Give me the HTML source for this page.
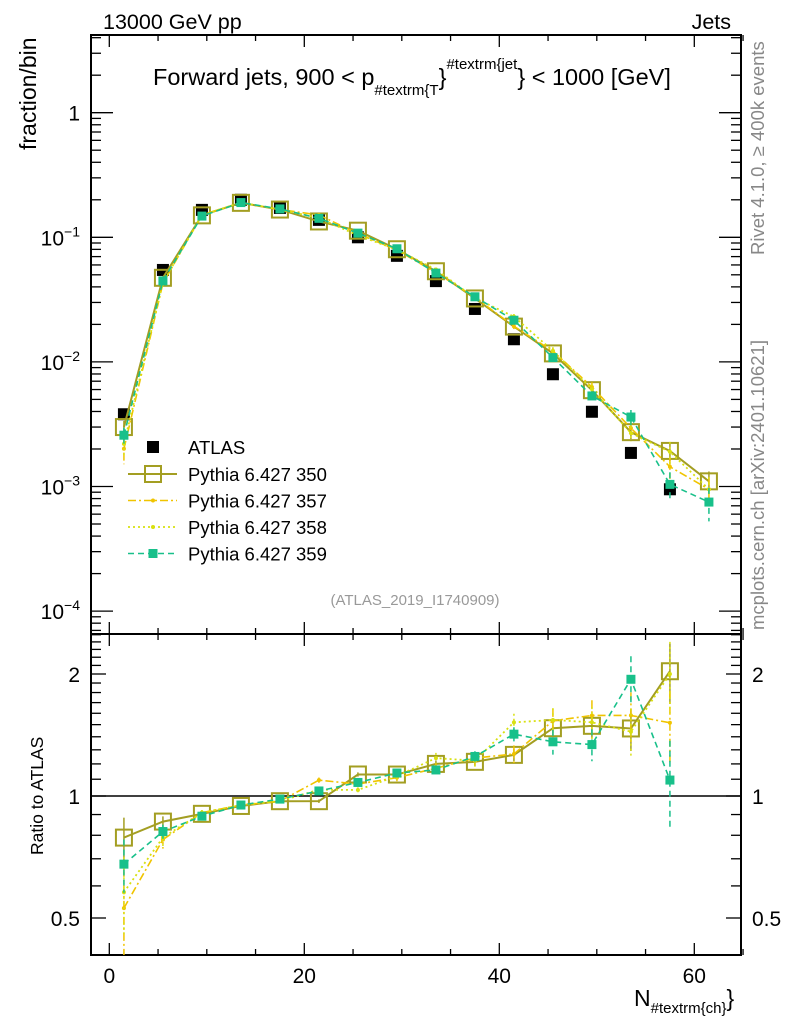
<!DOCTYPE html>
<html><head><meta charset="utf-8"><style>
html,body{margin:0;padding:0;background:#fff;}
svg{display:block;font-family:"Liberation Sans",Arial,sans-serif;}
</style></head><body>
<svg id="chart" width="786" height="1024" viewBox="0 0 786 1024" xmlns="http://www.w3.org/2000/svg">
<text x="103" y="29" font-size="21.5">13000 GeV pp</text>
<text x="731" y="29" font-size="21.5" text-anchor="end">Jets</text>
<text x="153" y="85" font-size="23.5">Forward jets, 900 &lt; p<tspan font-size="15" dy="10">#textrm{T</tspan><tspan font-size="23.5" dy="-10">}</tspan><tspan font-size="15" dy="-16">#textrm{jet</tspan><tspan font-size="23.5" dy="16">} &lt; 1000 [GeV]</tspan></text>
<text transform="translate(36,150) rotate(-90)" font-size="23">fraction/bin</text>
<text transform="translate(43,855) rotate(-90)" font-size="17.5">Ratio to ATLAS</text>
<text x="634" y="1006" font-size="23">N<tspan font-size="15" dy="7">#textrm{ch}</tspan><tspan font-size="23" dy="-7">}</tspan></text>
<text transform="translate(764,255) rotate(-90)" font-size="18.5" fill="#888">Rivet 4.1.0, ≥ 400k events</text>
<text transform="translate(764,630) rotate(-90)" font-size="18.5" fill="#888">mcplots.cern.ch [arXiv:2401.10621]</text>
<text x="415" y="605" font-size="15" fill="#999" text-anchor="middle">(ATLAS_2019_I1740909)</text>
<g id="g"></g>
</svg>
<script>
const bins = [1.5,5.5,9.5,13.5,17.5,21.5,25.5,29.5,33.5,37.5,41.5,45.5,49.5,53.5,57.5];
const mcBins = [1.5,5.5,9.5,13.5,17.5,21.5,25.5,29.5,33.5,37.5,41.5,45.5,49.5,53.5,57.5,61.5];
const atlas = [3.8e-3,0.0547,0.166,0.2,0.172,0.138,0.1,0.071,0.0445,0.0266,0.0152,0.00796,0.00398,0.00186,0.00095];
const mc350 = [3.0e-3,0.0473,0.150,0.189,0.167,0.134,0.113,0.0802,0.0534,0.0323,0.0192,0.0117,0.00593,0.00273,0.00193,0.0011];
const mc357 = [2.01e-3,0.0427,0.151,0.19,0.167,0.151,0.107,0.0788,0.0521,0.033,0.0193,0.0122,0.00629,0.00294,0.00144,0.00095];
const mc358 = [2.2e-3,0.0432,0.151,0.19,0.167,0.143,0.1035,0.0795,0.0552,0.0325,0.0231,0.01226,0.00605,0.00268,0.0019,0.00095];
const mc359 = [2.58e-3,0.0447,0.148,0.19,0.169,0.142,0.108,0.0809,0.0516,0.0333,0.0216,0.01083,0.00533,0.00361,0.00104,0.00075];
const relErr350 = [0.12,0.03,0.012,0.01,0.01,0.01,0.012,0.015,0.02,0.025,0.035,0.05,0.07,0.12,0.17,0.2];
const relErr357 = [0.25,0.05,0.015,0.01,0.01,0.015,0.015,0.02,0.03,0.035,0.05,0.07,0.09,0.14,0.2,0.25];
const relErr358 = [0.22,0.05,0.015,0.01,0.01,0.015,0.015,0.02,0.03,0.035,0.05,0.07,0.09,0.14,0.2,0.25];
const relErr359 = [0.15,0.04,0.015,0.01,0.01,0.015,0.015,0.02,0.025,0.03,0.04,0.07,0.09,0.14,0.25,0.3];
const xTicks = [0,20,40,60];
const yTickExp = [0,-1,-2,-3,-4];
const rTicks = [0.5,1,2];

const NS="http://www.w3.org/2000/svg";
const G=document.getElementById('g');
function el(tag,attrs,parent){const e=document.createElementNS(NS,tag);for(const k in attrs)e.setAttribute(k,attrs[k]);(parent||G).appendChild(e);return e;}
const L=91,R=741,T=35,MB=634,RB=955;
const xs=v=>109.3+9.75*v;
const ys=v=>112.7-124.6*Math.log10(v);
const rs=v=>796-122*Math.log2(v);

let f=el('rect',{x:L,y:T,width:R-L,height:MB-T,fill:'none',stroke:'#000','stroke-width':2});


f=el('rect',{x:L,y:MB,width:R-L,height:RB-MB,fill:'none',stroke:'#000','stroke-width':2});



const tg=el('g',{stroke:'#000','stroke-width':1.3});


for(let v=0;v<=65;v+=5){const x=xs(v);const big=v%20===0;const l=big?12:6;
 [[T,1],[MB,-1],[MB,1],[RB,-1]].forEach(([y0,d])=>el('line',{x1:x,x2:x,y1:y0,y2:y0+d*l},tg));}
xTicks.forEach(v=>{const t=el('text',{x:xs(v),y:983,'font-size':21,'text-anchor':'middle'});t.textContent=v;
 
 });
for(let e=-5;e<=0;e++){for(let m=1;m<=9;m++){const v=m*Math.pow(10,e);const y=ys(v);if(y<T||y>MB)continue;const l=m===1?22:10;
 el('line',{x1:L,x2:L+l,y1:y,y2:y},tg);el('line',{x1:R,x2:R-l,y1:y,y2:y},tg);}}
yTickExp.forEach(e=>{const y=ys(Math.pow(10,e));const t=el('text',{x:80,y:y+8,'font-size':21,'text-anchor':'end'});
 if(e===0)t.textContent='1';else{t.textContent='10';const s=el('tspan',{'font-size':14,dy:-9},t);s.textContent='\u2212'+(-e);}
 
 });
for(let v=0.5;v<=2.55;v+=0.1){const vv=Math.round(v*10)/10;const y=rs(vv);const big=rTicks.includes(vv);const l=big?15:10;
 el('line',{x1:L,x2:L+l,y1:y,y2:y},tg);el('line',{x1:R,x2:R-l,y1:y,y2:y},tg);}
rTicks.forEach(v=>{[[80,'end'],[752,'start']].forEach(([x,a])=>{const t=el('text',{x:x,y:rs(v)+8,'font-size':21,'text-anchor':a});t.textContent=v;
 
 });});
const ul=el('line',{x1:L,x2:R,y1:rs(1),y2:rs(1),stroke:'#000','stroke-width':1.5});



const series=[
 {name:'350',vals:mc350,err:relErr350,color:'#a39e22',dash:'',w:2,marker:'open'},
 {name:'357',vals:mc357,err:relErr357,color:'#f0c400',dash:'8,3,2,3',w:1.6,marker:'dot'},
 {name:'358',vals:mc358,err:relErr358,color:'#d8e010',dash:'2,3',w:1.8,marker:'dot'},
 {name:'359',vals:mc359,err:relErr359,color:'#18c08a',dash:'6,4',w:1.6,marker:'fsq'}];

function marker(s,x,y,g){
 if(s.marker==='open')return el('rect',{x:x-8,y:y-8,width:16,height:16,fill:'none',stroke:s.color,'stroke-width':2},g);
 if(s.marker==='fsq')return el('rect',{x:x-4.5,y:y-4.5,width:9,height:9,fill:s.color},g);
 return el('circle',{cx:x,cy:y,r:2,fill:s.color},g);
}
const ag=el('g',{});


atlas.forEach((v,i)=>{const m=el('rect',{x:xs(bins[i])-6,y:ys(v)-6,width:12,height:12,fill:'#000'},ag);
 
 });

series.forEach(s=>{
 const g=el('g',{});
 
 
 const pts=s.vals.map((v,i)=>xs(mcBins[i])+','+ys(v)).join(' ');
 el('polyline',{points:pts,fill:'none',stroke:s.color,'stroke-width':s.w,'stroke-dasharray':s.dash},g);
 s.vals.forEach((v,i)=>{const x=xs(mcBins[i]);const e=v*s.err[i];
  el('line',{x1:x,x2:x,y1:ys(v+e),y2:ys(Math.max(v-e,1e-6)),stroke:s.color,'stroke-width':1.5,'stroke-dasharray':s.dash},g);
  const m=marker(s,x,ys(v),g);
  
  });
 const rg=el('g',{});
 
 
 const rp=bins.map((b,i)=>xs(b)+','+rs(s.vals[i]/atlas[i])).join(' ');
 el('polyline',{points:rp,fill:'none',stroke:s.color,'stroke-width':s.w,'stroke-dasharray':s.dash},rg);
 bins.forEach((b,i)=>{const r=s.vals[i]/atlas[i];const e=r*s.err[i];const x=xs(b);
  el('line',{x1:x,x2:x,y1:Math.max(rs(r+e),MB),y2:Math.min(rs(Math.max(r-e,0.3)),RB),stroke:s.color,'stroke-width':1.5,'stroke-dasharray':s.dash},rg);
  const m=marker(s,x,rs(r),rg);
  
  });
});

const lg=el('g',{});


el('rect',{x:147,y:441,width:12,height:12,fill:'#000'},lg);
let t0=el('text',{x:188,y:454,'font-size':18.5},lg);t0.textContent='ATLAS';


series.forEach((s,i)=>{const y=474+i*26.5;
 el('line',{x1:128,x2:177,y1:y,y2:y,stroke:s.color,'stroke-width':s.w,'stroke-dasharray':s.dash},lg);
 marker(s,153,y,lg);
 const t=el('text',{x:188,y:y+7,'font-size':18.5},lg);t.textContent='Pythia 6.427 '+s.name;
 
 });
</script>
</body></html>
